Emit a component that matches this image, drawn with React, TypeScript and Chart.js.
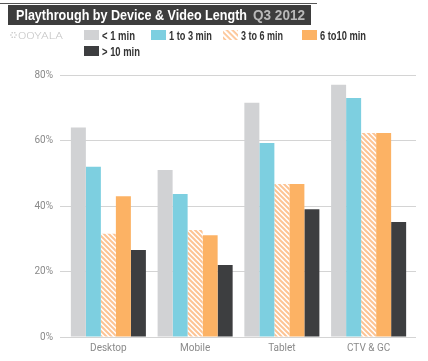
import React, { useEffect, useRef } from "react";
import { Chart, registerables } from "chart.js";
Chart.register(...registerables);

const categories = ["Desktop", "Mobile", "Tablet", "CTV & GC"];
const seriesNames = ["< 1 min", "1 to 3 min", "3 to 6 min", "6 to10 min", "> 10 min"];
const under1 = [64, 51, 71.5, 77];
const oneTo3 = [52, 43.7, 59.2, 73];
const threeTo6 = [31.5, 32.7, 46.7, 62.3];
const sixTo10 = [43, 31.1, 46.7, 62.3];
const over10 = [26.6, 22, 39, 35.1];
const yMin = 0;
const yMax = 80;
const yStep = 20;

const GRAY = "#d1d2d4";
const BLUE = "#7dcfe0";
const HATCH = "#fdc494";
const ORANGE = "#fcb264";
const DARK = "#3d3e40";

function makeHatch(): CanvasPattern | string {
  const p = 5;
  const c = document.createElement("canvas");
  c.width = p;
  c.height = p;
  const ctx = c.getContext("2d");
  if (!ctx) return HATCH;
  ctx.fillStyle = "#ffffff";
  ctx.fillRect(0, 0, p, p);
  ctx.strokeStyle = HATCH;
  ctx.lineWidth = 2;
  ctx.beginPath();
  ctx.moveTo(-p, -p);
  ctx.lineTo(2 * p, 2 * p);
  ctx.moveTo(-p, 0);
  ctx.lineTo(p, 2 * p);
  ctx.moveTo(0, -p);
  ctx.lineTo(2 * p, p);
  ctx.stroke();
  const pat = ctx.createPattern(c, "repeat");
  return pat || HATCH;
}

const FONT = "'Liberation Sans', Arial, sans-serif";

// legend layout: [swatch x, swatch y, text width]
const legendPos: [number, number, number][] = [
  [84, 30, 33],
  [151, 30, 43],
  [223, 30, 42],
  [302, 30, 46],
  [84, 46, 38],
];

export default function App() {
  const ref = useRef<HTMLCanvasElement | null>(null);
  useEffect(() => {
    if (!ref.current) return;
    const hatch = makeHatch();
    const colors: any[] = [GRAY, BLUE, hatch, ORANGE, DARK];
    const series = [under1, oneTo3, threeTo6, sixTo10, over10];
    const chart = new Chart(ref.current, {
      type: "bar",
      data: {
        labels: categories,
        datasets: series.map((d, i) => ({
          label: seriesNames[i],
          data: d,
          backgroundColor: colors[i],
          borderWidth: 0,
          barPercentage: 1,
          categoryPercentage: 0.865,
        })),
      },
      options: {
        responsive: false,
        animation: false,
        layout: { padding: { top: 75, left: 28, right: 12, bottom: 0 } },
        plugins: { legend: { display: false }, tooltip: { enabled: false }, title: { display: false } },
        scales: {
          x: {
            grid: { display: false, drawTicks: false },
            border: { display: false },
            ticks: {
              padding: 5,
              color: "#8a8a8a",
              font: { family: "Roboto, 'Liberation Sans', sans-serif", size: 10 },
            },
            afterFit: (s: any) => {
              s.height = 24;
            },
          },
          y: {
            min: yMin,
            max: yMax,
            ticks: {
              stepSize: yStep,
              padding: 7,
              color: "#8a8a8a",
              font: { family: "Roboto, 'Liberation Sans', sans-serif", size: 10 },
              callback: (v: any) => v + "%",
            },
            grid: { color: "#d4d4d4", lineWidth: 1, drawTicks: true, tickLength: 5, tickColor: "#d4d4d4" },
            border: { display: false },
            afterFit: (s: any) => {
              s.width = 37;
            },
          },
          y2: {
            position: "right",
            min: yMin,
            max: yMax,
            ticks: { display: false, stepSize: yStep },
            grid: { drawOnChartArea: false, drawTicks: true, tickLength: 4, tickColor: "#d4d4d4" },
            border: { display: false },
            afterFit: (s: any) => {
              s.width = 4;
            },
          },
        },
      } as any,
    });
    return () => chart.destroy();
  }, []);

  const swatchFills = [GRAY, BLUE, "url(#hatchPat)", ORANGE, DARK];
  const flowerDots = [0, 1, 2, 3, 4, 5].map((k) => {
    const a = (k * Math.PI) / 3;
    return <circle key={k} cx={13.5 + 2.6 * Math.cos(a)} cy={35 + 2.6 * Math.sin(a)} r={0.8} fill="#c4c4c4" />;
  });

  return (
    <div style={{ position: "absolute", left: 0, top: 0, width: 428, height: 361, overflow: "hidden", background: "#fff" }}>
      <canvas ref={ref} width={428} height={361} style={{ position: "absolute", left: 0, top: 0 }} />
      <svg width={428} height={62} style={{ position: "absolute", left: 0, top: 0 }}>
        <defs>
          <pattern id="hatchPat" width={4} height={4} patternUnits="userSpaceOnUse" patternTransform="rotate(45)">
            <rect width={4} height={4} fill="#fff" />
            <rect width={4} height={1.8} fill={HATCH} />
          </pattern>
        </defs>
        <rect x={0} y={3} width={317} height={1} fill="#555" />
        <rect x={8} y={5} width={303} height={20} fill="#3d3d3d" />
        <text x={16} y={20} fill="#fff" fontFamily={FONT} fontWeight={700} fontSize={14.5} textLength={231} lengthAdjust="spacingAndGlyphs">
          Playthrough by Device &amp; Video Length
        </text>
        <text x={253} y={20} fill="#b9b9b9" fontFamily={FONT} fontWeight={700} fontSize={14.5} textLength={52} lengthAdjust="spacingAndGlyphs">
          Q3 2012
        </text>
        {flowerDots}
        <text x={18} y={38.5} fill="#c4c4c4" fontFamily="Roboto, 'Liberation Sans', sans-serif" fontWeight={300} fontSize={9.5} textLength={45} lengthAdjust="spacingAndGlyphs">
          OOYALA
        </text>
        {legendPos.map(([x, y, w], i) => (
          <g key={i}>
            <rect x={x} y={y} width={15} height={10} fill={swatchFills[i]} />
            <text x={x + 18} y={y + 10} fill="#333" fontFamily={FONT} fontWeight={700} fontSize={12} textLength={w} lengthAdjust="spacingAndGlyphs">
              {seriesNames[i]}
            </text>
          </g>
        ))}
      </svg>
    </div>
  );
}
